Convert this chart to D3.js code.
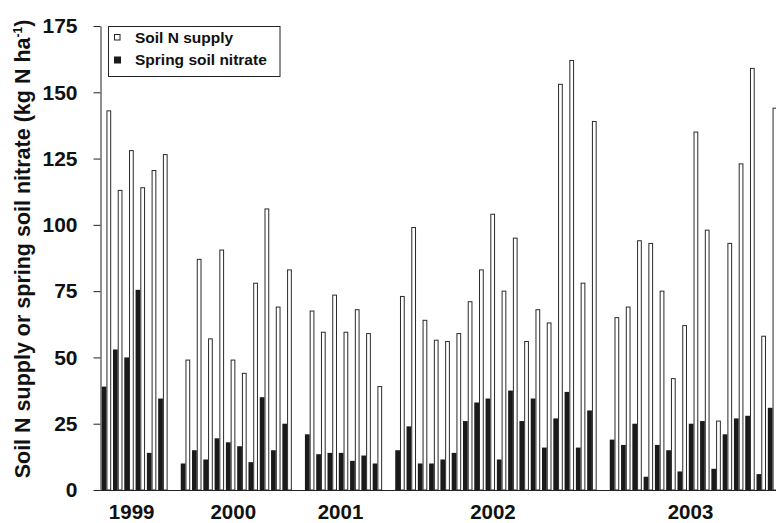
<!DOCTYPE html>
<html>
<head>
<meta charset="utf-8">
<script src="https://cdn.jsdelivr.net/npm/d3@7"></script>
<style>
    body { margin: 0; background: #fff; }
    text { font-family: "Liberation Sans", Arial, sans-serif; font-weight: bold; fill: #111; }
</style>
</head>
<body>
<div id="chart"></div>
<script>
/* Data, one value per site, grouped by year */
var years = ["1999", "2000", "2001", "2002", "2003"];
var sitesPerYear = [6, 10, 7, 18, 15];

var soilNSupply = [
    143, 113, 128, 114, 120.5, 126.5,
    49, 87, 57, 90.5, 49, 44, 78, 106, 69, 83,
    67.5, 59.5, 73.5, 59.5, 68, 59, 39,
    73, 99, 64, 56.5, 56, 59, 71, 83, 104, 75, 95, 56, 68, 63, 153, 162, 78, 139,
    65, 69, 94, 93, 75, 42, 62, 135, 98, 26, 93, 123, 159, 58, 144
];
var springNitrate = [
    39, 53, 50, 75.5, 14, 34.5,
    10, 15, 11.5, 19.5, 18, 16.5, 10.5, 35, 15, 25,
    21, 13.5, 14, 14, 11, 13, 10,
    15, 24, 10, 10, 11.5, 14, 26, 33, 34.5, 11.5, 37.5, 26, 34.5, 16, 27, 37, 16, 30,
    19, 17, 25, 5, 17, 15, 7, 25, 26, 8, 21, 27, 28, 6, 31
];
var yTicks = [0, 25, 50, 75, 100, 125, 150, 175];

var width = 776,
    height = 523,
    margins = {top: 26, bottom: 33, left: 100.5};

/* Slots: one per site, plus an empty slot between years */
var slots = [];
var k = 0;
years.forEach(function(yr, yi){
    for (var i = 0; i < sitesPerYear[yi]; i++) {
        slots.push({key: yr + "-" + i, year: yr, supply: soilNSupply[k], nitrate: springNitrate[k]});
        k++;
    }
    if (yi < years.length - 1) slots.push({key: yr + "-gap", gap: true});
});
var sites = slots.filter(function(d){ return !d.gap; });

var svg = d3.select("#chart")
    .append("svg")
        .attr("width", width)
        .attr("height", height);

/* Scales - the plot runs a little past the right edge, as in the figure */
var step = 11.29;
var x = d3.scaleBand()
    .domain(slots.map(function(d){ return d.key; }))
    .range([margins.left + 0.3, margins.left + 0.3 + slots.length * step])
    .paddingInner(0.16)
    .paddingOuter(0.08);
var sub = d3.scaleBand()
    .domain(["nitrate", "supply"])
    .range([0, x.bandwidth()]);
var y = d3.scaleLinear()
    .domain([0, 175])
    .range([height - margins.bottom, margins.top]);

/* Bars */
var bars = svg.append("g").attr("class", "bars");
bars.selectAll(".nitrate")
    .data(sites)
    .enter()
    .append("rect")
        .attr("class", "nitrate")
        .attr("x", function(d){ return x(d.key) + sub("nitrate"); })
        .attr("y", function(d){ return y(d.nitrate); })
        .attr("width", sub.bandwidth())
        .attr("height", function(d){ return y(0) - y(d.nitrate); })
        .attr("fill", "#1a1a1a");
bars.selectAll(".supply")
    .data(sites)
    .enter()
    .append("rect")
        .attr("class", "supply")
        .attr("x", function(d){ return x(d.key) + sub("supply") + 0.5; })
        .attr("y", function(d){ return y(d.supply); })
        .attr("width", sub.bandwidth() - 1)
        .attr("height", function(d){ return y(0) - y(d.supply); })
        .attr("fill", "#fff")
        .attr("stroke", "#2a2a2a")
        .attr("stroke-width", 1);

/* Axes */
var yAxis = d3.axisLeft(y)
    .tickValues(yTicks)
    .tickSize(7)
    .tickSizeOuter(0)
    .tickPadding(16);
var gy = svg.append("g")
    .attr("class", "yAxis")
    .attr("transform", "translate(" + margins.left + ",0)")
    .call(yAxis);
gy.selectAll("path, line").attr("stroke", "#222");
gy.selectAll("text")
    .style("font-size", "21px")
    .style("font-family", "'Liberation Sans', Arial, sans-serif")
    .style("font-weight", "bold")
    .attr("fill", "#111");

svg.append("line")
    .attr("x1", margins.left)
    .attr("x2", width)
    .attr("y1", y(0) + 0.5)
    .attr("y2", y(0) + 0.5)
    .attr("stroke", "#222");

/* Year labels, roughly centred under each group */
years.forEach(function(yr){
    var grp = sites.filter(function(d){ return d.year === yr; });
    var cx = (x(grp[0].key) + x(grp[grp.length - 1].key) + x.bandwidth()) / 2 - 3;
    svg.append("text")
        .attr("x", cx)
        .attr("y", y(0) + 29)
        .attr("text-anchor", "middle")
        .style("font-size", "20.5px")
        .text(yr);
});

/* Y title */
var title = svg.append("text")
    .attr("transform", "translate(30," + 249 + ") rotate(-90)")
    .attr("text-anchor", "middle")
    .style("font-size", "21.5px");
title.append("tspan").text("Soil N supply or spring soil nitrate (kg N ha");
title.append("tspan").attr("dy", -8).style("font-size", "12px").text("-1");
title.append("tspan").attr("dy", 8).text(")");

/* Legend */
var legend = svg.append("g").attr("class", "legend");
legend.append("rect")
    .attr("x", 108.5).attr("y", 26.5)
    .attr("width", 171.5).attr("height", 50)
    .attr("fill", "#fff")
    .attr("stroke", "#222");
legend.append("rect")
    .attr("x", 114.5).attr("y", 34.5)
    .attr("width", 5.5).attr("height", 5.5)
    .attr("fill", "#fff")
    .attr("stroke", "#222");
legend.append("rect")
    .attr("x", 114).attr("y", 56.5)
    .attr("width", 7).attr("height", 7)
    .attr("fill", "#1a1a1a");
legend.append("text")
    .attr("x", 135).attr("y", 43)
    .style("font-size", "15.5px")
    .text("Soil N supply");
legend.append("text")
    .attr("x", 135).attr("y", 65)
    .style("font-size", "15.5px")
    .text("Spring soil nitrate");
</script>
</body>
</html>
